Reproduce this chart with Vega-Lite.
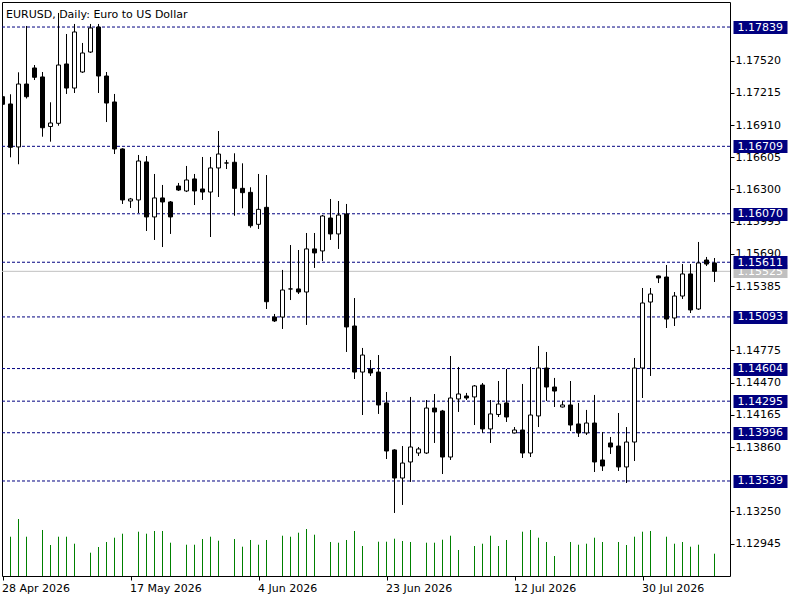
{
  "$schema": "https://vega.github.io/schema/vega-lite/v6.json",
  "width": 728,
  "height": 574,
  "autosize": {"type": "none"},
  "padding": {"left": 2, "top": 2, "right": 70, "bottom": 24},
  "background": "white",
  "title": {"text": "EURUSD, Daily:  Euro to US Dollar", "anchor": "start", "frame": "group", "offset": -27, "baseline": "alphabetic", "dx": 4, "font": "DejaVu Sans", "fontSize": 11, "fontWeight": "normal", "color": "black"},
  "config": {
    "view": {"stroke": "black", "strokeWidth": 1},
    "axis": {"labelFont": "DejaVu Sans", "labelFontSize": 11, "labelColor": "black", "tickColor": "black", "domain": false, "grid": false}
  },
  "data": {"values": [
    {"date": "2026-04-28", "open": 1.17179, "high": 1.17214, "low": 1.17082, "close": 1.17107, "volume": null},
    {"date": "2026-04-29", "open": 1.17110, "high": 1.17202, "low": 1.16605, "close": 1.16700, "volume": 34230},
    {"date": "2026-04-30", "open": 1.16703, "high": 1.17410, "low": 1.16539, "close": 1.17299, "volume": 49650},
    {"date": "2026-05-01", "open": 1.17299, "high": 1.17849, "low": 1.17162, "close": 1.17179, "volume": 34230},
    {"date": "2026-05-03", "open": 1.17451, "high": 1.17479, "low": 1.17337, "close": 1.17363, "volume": null},
    {"date": "2026-05-04", "open": 1.17366, "high": 1.17413, "low": 1.16800, "close": 1.16885, "volume": 40070},
    {"date": "2026-05-05", "open": 1.16897, "high": 1.17126, "low": 1.16753, "close": 1.16930, "volume": 27000},
    {"date": "2026-05-06", "open": 1.16927, "high": 1.17972, "low": 1.16904, "close": 1.17479, "volume": 34230},
    {"date": "2026-05-07", "open": 1.17489, "high": 1.17773, "low": 1.17205, "close": 1.17261, "volume": 34230},
    {"date": "2026-05-08", "open": 1.17261, "high": 1.17868, "low": 1.17214, "close": 1.17792, "volume": 28140},
    {"date": "2026-05-10", "open": 1.17413, "high": 1.17688, "low": 1.17404, "close": 1.17593, "volume": null},
    {"date": "2026-05-11", "open": 1.17602, "high": 1.17868, "low": 1.17593, "close": 1.17830, "volume": 20300},
    {"date": "2026-05-12", "open": 1.17839, "high": 1.17868, "low": 1.17214, "close": 1.17375, "volume": 25260},
    {"date": "2026-05-13", "open": 1.17375, "high": 1.17413, "low": 1.16939, "close": 1.17119, "volume": 29620},
    {"date": "2026-05-14", "open": 1.17129, "high": 1.17205, "low": 1.16636, "close": 1.16684, "volume": 33360},
    {"date": "2026-05-15", "open": 1.16684, "high": 1.16690, "low": 1.16163, "close": 1.16201, "volume": 36850},
    {"date": "2026-05-17", "open": 1.16191, "high": 1.16220, "low": 1.16125, "close": 1.16210, "volume": null},
    {"date": "2026-05-18", "open": 1.16201, "high": 1.16627, "low": 1.16077, "close": 1.16570, "volume": 38590},
    {"date": "2026-05-19", "open": 1.16561, "high": 1.16617, "low": 1.15907, "close": 1.16040, "volume": 36850},
    {"date": "2026-05-20", "open": 1.16040, "high": 1.16447, "low": 1.15822, "close": 1.16220, "volume": 39200},
    {"date": "2026-05-21", "open": 1.16220, "high": 1.16343, "low": 1.15755, "close": 1.16182, "volume": 39200},
    {"date": "2026-05-22", "open": 1.16182, "high": 1.16191, "low": 1.15879, "close": 1.16040, "volume": 29010},
    {"date": "2026-05-24", "open": 1.16333, "high": 1.16362, "low": 1.16286, "close": 1.16295, "volume": null},
    {"date": "2026-05-25", "open": 1.16286, "high": 1.16523, "low": 1.16276, "close": 1.16390, "volume": 27260},
    {"date": "2026-05-26", "open": 1.16400, "high": 1.16447, "low": 1.16153, "close": 1.16286, "volume": 27260},
    {"date": "2026-05-27", "open": 1.16305, "high": 1.16608, "low": 1.16201, "close": 1.16276, "volume": 32230},
    {"date": "2026-05-28", "open": 1.16276, "high": 1.16608, "low": 1.15850, "close": 1.16504, "volume": 34230},
    {"date": "2026-05-29", "open": 1.16504, "high": 1.16854, "low": 1.16229, "close": 1.16636, "volume": 30750},
    {"date": "2026-05-31", "open": 1.16551, "high": 1.16580, "low": 1.16494, "close": 1.16551, "volume": null},
    {"date": "2026-06-01", "open": 1.16558, "high": 1.16643, "low": 1.16052, "close": 1.16311, "volume": 32230},
    {"date": "2026-06-02", "open": 1.16311, "high": 1.16548, "low": 1.16122, "close": 1.16270, "volume": 25520},
    {"date": "2026-06-03", "open": 1.16273, "high": 1.16321, "low": 1.15938, "close": 1.15957, "volume": 31360},
    {"date": "2026-06-04", "open": 1.15970, "high": 1.16447, "low": 1.15926, "close": 1.16112, "volume": 27260},
    {"date": "2026-06-05", "open": 1.16131, "high": 1.16437, "low": 1.15168, "close": 1.15237, "volume": 31360},
    {"date": "2026-06-07", "open": 1.15092, "high": 1.15121, "low": 1.15045, "close": 1.15055, "volume": null},
    {"date": "2026-06-08", "open": 1.15092, "high": 1.15538, "low": 1.14979, "close": 1.15348, "volume": 35100},
    {"date": "2026-06-09", "open": 1.15358, "high": 1.15774, "low": 1.15253, "close": 1.15358, "volume": 34230},
    {"date": "2026-06-10", "open": 1.15358, "high": 1.15727, "low": 1.15310, "close": 1.15329, "volume": 37720},
    {"date": "2026-06-11", "open": 1.15329, "high": 1.15888, "low": 1.15017, "close": 1.15737, "volume": 40940},
    {"date": "2026-06-12", "open": 1.15737, "high": 1.15888, "low": 1.15557, "close": 1.15699, "volume": 35980},
    {"date": "2026-06-14", "open": 1.15718, "high": 1.16058, "low": 1.15623, "close": 1.16049, "volume": null},
    {"date": "2026-06-15", "open": 1.16030, "high": 1.16210, "low": 1.15822, "close": 1.15879, "volume": 29620},
    {"date": "2026-06-16", "open": 1.15879, "high": 1.16191, "low": 1.15737, "close": 1.16058, "volume": 29010},
    {"date": "2026-06-17", "open": 1.16068, "high": 1.16163, "low": 1.14761, "close": 1.14998, "volume": 31360},
    {"date": "2026-06-18", "open": 1.15007, "high": 1.15272, "low": 1.14505, "close": 1.14571, "volume": 39200},
    {"date": "2026-06-19", "open": 1.14571, "high": 1.14799, "low": 1.14164, "close": 1.14732, "volume": 26130},
    {"date": "2026-06-21", "open": 1.14600, "high": 1.14685, "low": 1.14534, "close": 1.14562, "volume": null},
    {"date": "2026-06-22", "open": 1.14571, "high": 1.14732, "low": 1.14174, "close": 1.14259, "volume": 29880},
    {"date": "2026-06-23", "open": 1.14278, "high": 1.14382, "low": 1.13747, "close": 1.13823, "volume": 29880},
    {"date": "2026-06-24", "open": 1.13833, "high": 1.13840, "low": 1.13236, "close": 1.13567, "volume": 32490},
    {"date": "2026-06-25", "open": 1.13567, "high": 1.13870, "low": 1.13312, "close": 1.13709, "volume": 30490},
    {"date": "2026-06-26", "open": 1.13719, "high": 1.14335, "low": 1.13530, "close": 1.13861, "volume": 29620},
    {"date": "2026-06-28", "open": 1.13804, "high": 1.13861, "low": 1.13776, "close": 1.13842, "volume": null},
    {"date": "2026-06-29", "open": 1.13804, "high": 1.14306, "low": 1.13795, "close": 1.14230, "volume": 29010},
    {"date": "2026-06-30", "open": 1.14230, "high": 1.14363, "low": 1.13899, "close": 1.14193, "volume": 29010},
    {"date": "2026-07-01", "open": 1.14202, "high": 1.14212, "low": 1.13605, "close": 1.13766, "volume": 31620},
    {"date": "2026-07-02", "open": 1.13766, "high": 1.14723, "low": 1.13738, "close": 1.14325, "volume": 35100},
    {"date": "2026-07-03", "open": 1.14316, "high": 1.14619, "low": 1.14193, "close": 1.14363, "volume": 22650},
    {"date": "2026-07-05", "open": 1.14344, "high": 1.14373, "low": 1.14306, "close": 1.14325, "volume": null},
    {"date": "2026-07-06", "open": 1.14335, "high": 1.14448, "low": 1.14069, "close": 1.14439, "volume": 26130},
    {"date": "2026-07-07", "open": 1.14448, "high": 1.14467, "low": 1.13994, "close": 1.14032, "volume": 28140},
    {"date": "2026-07-08", "open": 1.14032, "high": 1.14306, "low": 1.13899, "close": 1.14174, "volume": 35100},
    {"date": "2026-07-09", "open": 1.14169, "high": 1.14486, "low": 1.14145, "close": 1.14268, "volume": 26130},
    {"date": "2026-07-10", "open": 1.14278, "high": 1.14600, "low": 1.14098, "close": 1.14145, "volume": 31360},
    {"date": "2026-07-12", "open": 1.13994, "high": 1.14050, "low": 1.13989, "close": 1.14022, "volume": null},
    {"date": "2026-07-13", "open": 1.14022, "high": 1.14458, "low": 1.13757, "close": 1.13804, "volume": 38590},
    {"date": "2026-07-14", "open": 1.13804, "high": 1.14619, "low": 1.13766, "close": 1.14164, "volume": 40070},
    {"date": "2026-07-15", "open": 1.14155, "high": 1.14818, "low": 1.14050, "close": 1.14609, "volume": 33360},
    {"date": "2026-07-16", "open": 1.14609, "high": 1.14761, "low": 1.14297, "close": 1.14429, "volume": 29620},
    {"date": "2026-07-17", "open": 1.14429, "high": 1.14515, "low": 1.14240, "close": 1.14391, "volume": 17420},
    {"date": "2026-07-19", "open": 1.14240, "high": 1.14297, "low": 1.14235, "close": 1.14259, "volume": null},
    {"date": "2026-07-20", "open": 1.14259, "high": 1.14486, "low": 1.14013, "close": 1.14069, "volume": 29620},
    {"date": "2026-07-21", "open": 1.14079, "high": 1.14278, "low": 1.13956, "close": 1.13994, "volume": 27260},
    {"date": "2026-07-22", "open": 1.13994, "high": 1.14212, "low": 1.13975, "close": 1.14088, "volume": 28140},
    {"date": "2026-07-23", "open": 1.14088, "high": 1.14354, "low": 1.13624, "close": 1.13719, "volume": 33360},
    {"date": "2026-07-24", "open": 1.13738, "high": 1.14003, "low": 1.13634, "close": 1.13681, "volume": 29620},
    {"date": "2026-07-26", "open": 1.13899, "high": 1.13956, "low": 1.13795, "close": 1.13861, "volume": null},
    {"date": "2026-07-27", "open": 1.13870, "high": 1.14183, "low": 1.13634, "close": 1.13672, "volume": 29620},
    {"date": "2026-07-28", "open": 1.13672, "high": 1.14050, "low": 1.13520, "close": 1.13908, "volume": 27000},
    {"date": "2026-07-29", "open": 1.13908, "high": 1.14704, "low": 1.13728, "close": 1.14609, "volume": 34230},
    {"date": "2026-07-30", "open": 1.14609, "high": 1.15367, "low": 1.14325, "close": 1.15225, "volume": 38590},
    {"date": "2026-07-31", "open": 1.15234, "high": 1.15367, "low": 1.14534, "close": 1.15310, "volume": 39200},
    {"date": "2026-08-02", "open": 1.15481, "high": 1.15485, "low": 1.15414, "close": 1.15462, "volume": null},
    {"date": "2026-08-03", "open": 1.15471, "high": 1.15585, "low": 1.14988, "close": 1.15073, "volume": 34230},
    {"date": "2026-08-04", "open": 1.15083, "high": 1.15329, "low": 1.15007, "close": 1.15291, "volume": 28140},
    {"date": "2026-08-05", "open": 1.15291, "high": 1.15594, "low": 1.15263, "close": 1.15500, "volume": 29620},
    {"date": "2026-08-06", "open": 1.15500, "high": 1.15594, "low": 1.15130, "close": 1.15159, "volume": 25520},
    {"date": "2026-08-07", "open": 1.15168, "high": 1.15803, "low": 1.15159, "close": 1.15604, "volume": 27260},
    {"date": "2026-08-09", "open": 1.15632, "high": 1.15661, "low": 1.15575, "close": 1.15594, "volume": null},
    {"date": "2026-08-10", "open": 1.15604, "high": 1.15651, "low": 1.15424, "close": 1.15525, "volume": 19430}
  ]},
  "layer": [
    {
      "layer": [
        {
          "data": {"values": [{"level": 1.17839}, {"level": 1.16709}, {"level": 1.16070}, {"level": 1.15611}, {"level": 1.15093}, {"level": 1.14604}, {"level": 1.14295}, {"level": 1.13996}, {"level": 1.13539}]},
          "mark": {"type": "rule", "color": "#000080", "strokeWidth": 1, "strokeDash": [3, 2]},
          "encoding": {
            "y": {"field": "level", "type": "quantitative",
                  "scale": {"domain": [1.12639, 1.18076], "nice": false, "zero": false},
                  "axis": {"orient": "right", "title": null, "values": [1.17839, 1.16709, 1.1607, 1.15611, 1.15093, 1.14604, 1.14295, 1.13996, 1.13539], "format": ".5f", "offset": 3, "tickSize": 54, "tickWidth": 13, "tickColor": "#000080", "labelColor": "white", "labelPadding": -50, "labelOverlap": false, "zindex": 3}}
          }
        },
        {
          "data": {"values": [{"bid": 1.15525}]},
          "mark": {"type": "rule", "color": "#C0C0C0", "strokeWidth": 1},
          "encoding": {
            "y": {"field": "bid", "type": "quantitative",
                  "scale": {"domain": [1.12639, 1.18076], "nice": false, "zero": false},
                  "axis": {"orient": "right", "title": null, "values": [1.15525], "format": ".5f", "offset": 3, "tickSize": 54, "tickWidth": 13, "tickColor": "#C0C0C0", "labelColor": "white", "labelPadding": -50, "labelOverlap": false, "zindex": 2}}
          }
        },
        {
          "mark": {"type": "rule", "color": "black", "strokeWidth": 1, "clip": true},
          "encoding": {
            "x": {"field": "date", "type": "ordinal",
                  "scale": {"type": "point", "padding": 1, "align": 0.03125},
                  "axis": {"orient": "bottom", "title": null, "values": ["2026-04-28", "2026-05-17", "2026-06-04", "2026-06-23", "2026-07-12", "2026-07-30"], "labelExpr": "utcFormat(toDate(datum.value), '%-d %b %Y')", "labelAlign": "left", "labelBaseline": "top", "labelAngle": 0, "tickSize": 4, "labelPadding": 2, "labelOffset": -1, "labelFlush": false, "labelOverlap": false, "labelBound": false}},
            "y": {"field": "low", "type": "quantitative",
                  "scale": {"domain": [1.12639, 1.18076], "nice": false, "zero": false},
                  "axis": {"orient": "right", "title": null, "values": [1.1752, 1.17215, 1.1691, 1.16605, 1.163, 1.15995, 1.1569, 1.15385, 1.14775, 1.1447, 1.14165, 1.1386, 1.1325, 1.12945], "format": ".5f", "tickSize": 4, "labelPadding": 1, "labelOverlap": false, "zindex": 1}},
            "y2": {"field": "high"}
          }
        },
        {
          "mark": {"type": "bar", "width": 4, "stroke": "black", "strokeWidth": 1, "clip": true},
          "encoding": {
            "x": {"field": "date", "type": "ordinal",
                  "scale": {"type": "point", "padding": 1, "align": 0.03125},
                  "axis": {"orient": "bottom", "title": null, "values": ["2026-04-28", "2026-05-17", "2026-06-04", "2026-06-23", "2026-07-12", "2026-07-30"], "labelExpr": "utcFormat(toDate(datum.value), '%-d %b %Y')", "labelAlign": "left", "labelBaseline": "top", "labelAngle": 0, "tickSize": 4, "labelPadding": 2, "labelOffset": -1, "labelFlush": false, "labelOverlap": false, "labelBound": false}},
            "y": {"field": "open", "type": "quantitative",
                  "scale": {"domain": [1.12639, 1.18076], "nice": false, "zero": false},
                  "axis": null},
            "y2": {"field": "close"},
            "fill": {"condition": {"test": "datum.close >= datum.open", "value": "white"}, "value": "black"}
          }
        }
      ],
      "resolve": {"axis": {"y": "independent"}}
    },
    {
      "transform": [{"filter": "datum.volume != null"}],
      "mark": {"type": "rule", "color": "#008000", "strokeWidth": 1},
      "encoding": {
        "x": {"field": "date", "type": "ordinal",
              "scale": {"type": "point", "padding": 1, "align": 0.03125},
              "axis": {"orient": "bottom", "title": null, "values": ["2026-04-28", "2026-05-17", "2026-06-04", "2026-06-23", "2026-07-12", "2026-07-30"], "labelExpr": "utcFormat(toDate(datum.value), '%-d %b %Y')", "labelAlign": "left", "labelBaseline": "top", "labelAngle": 0, "tickSize": 4, "labelPadding": 2, "labelOffset": -1, "labelFlush": false, "labelOverlap": false, "labelBound": false}},
        "y": {"field": "volume", "type": "quantitative", "scale": {"domain": [0, 500000]}, "axis": null},
        "y2": {"datum": 0}
      }
    }
  ],
  "resolve": {"scale": {"y": "independent"}}
}
